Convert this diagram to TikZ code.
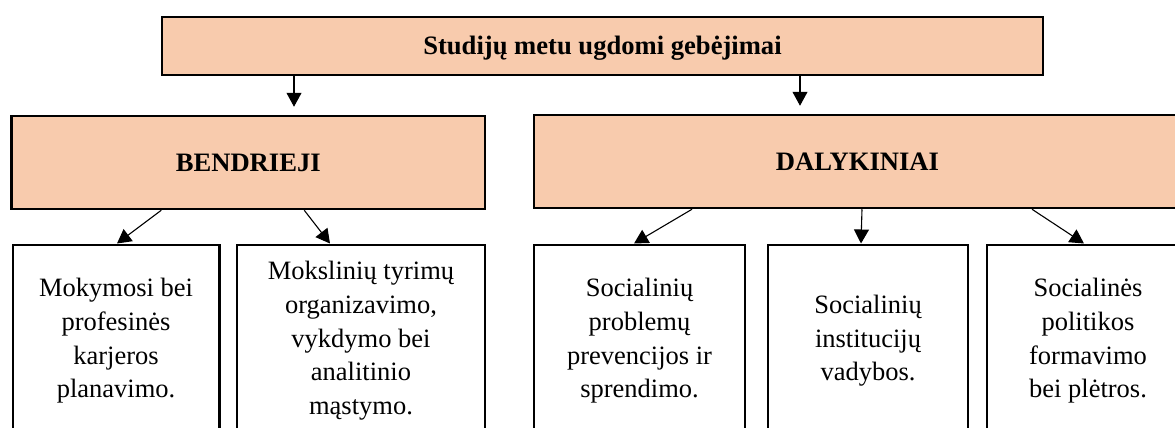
\documentclass[tikz,border=0pt]{standalone}
\usepackage{fontspec}
\setmainfont{Liberation Serif}
\usetikzlibrary{arrows.meta}
\definecolor{peach}{HTML}{F8CBAD}
\begin{document}
\begin{tikzpicture}[x=1pt,y=-1pt,
  headbox/.style={draw=black, line width=2.5pt, fill=peach, inner sep=0pt,
    font=\fontsize{26.6pt}{32pt}\selectfont\bfseries},
  leafbox/.style={draw=black, line width=2.5pt, fill=white, inner sep=0pt,
    align=center, anchor=north, minimum height=192pt,
    font=\fontsize{26.5pt}{33.8pt}\selectfont},
  conn/.style={line width=1.1pt, -{Triangle[length=14pt,width=15pt]}}]
\useasboundingbox (0,0) rectangle (1175,428);
\begin{scope}
\clip (0,0) rectangle (1175,428);
\node[headbox, minimum width=881pt, minimum height=58pt, text height=20pt, text depth=2pt] (top) at (602.5,46) {Studijų metu ugdomi gebėjimai};
\node[headbox, minimum width=473.5pt, minimum height=93pt] (bend) at (248.25,162.5) {BENDRIEJI};
\node[headbox, minimum width=647pt, minimum height=93pt] (daly) at (857.5,161.5) {DALYKINIAI};
\node[leafbox, minimum width=206.5pt] (b1) at (116,243.5) {Mokymosi bei\\profesinės\\karjeros\\planavimo.};
\node[leafbox, minimum width=248pt] (b2) at (361,243.5) {Mokslinių tyrimų\\organizavimo,\\vykdymo bei\\analitinio\\mąstymo.};
\node[leafbox, minimum width=211pt] (b3) at (639.5,243.5) {Socialinių\\problemų\\prevencijos ir\\sprendimo.};
\node[leafbox, minimum width=200pt] (b4) at (868,243.5) {Socialinių\\institucijų\\vadybos.};
\node[leafbox, minimum width=202pt] (b5) at (1088,243.5) {Socialinės\\politikos\\formavimo\\bei plėtros.};
\draw[conn, shorten >=8pt] ([xshift=-308.5pt]top.south) -- ([xshift=45.75pt]bend.north);
\draw[conn, shorten >=8pt] ([xshift=197.5pt]top.south) -- ([xshift=-57.5pt]daly.north);
\draw[conn] ([xshift=-87pt]bend.south) -- ([xshift=1pt]b1.north);
\draw[conn] ([xshift=56pt]bend.south) -- ([xshift=-31pt]b2.north);
\draw[conn] ([xshift=-165.5pt]daly.south) -- ([xshift=-5.5pt]b3.north);
\draw[conn] ([xshift=4.5pt]daly.south) -- ([xshift=-7pt]b4.north);
\draw[conn] ([xshift=174.5pt]daly.south) -- ([xshift=-4pt]b5.north);
\end{scope}
\end{tikzpicture}
\end{document}
